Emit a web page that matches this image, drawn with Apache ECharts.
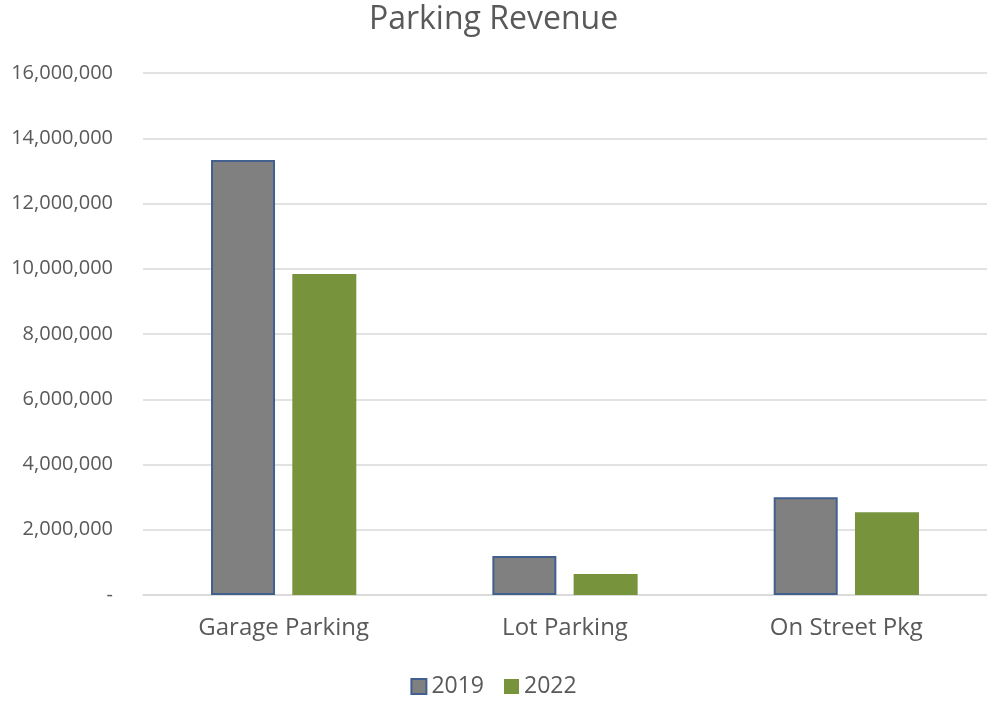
<!DOCTYPE html>
<html>
<head>
<meta charset="utf-8">
<script src="https://cdn.jsdelivr.net/npm/echarts@6/dist/echarts.min.js"></script>
<style>
  html, body { margin: 0; padding: 0; background: #fff; }
  #chart { width: 987px; height: 705px; }
</style>
</head>
<body>
<div id="chart"></div>
<script>
const categories = ["Garage Parking", "Lot Parking", "On Street Pkg"];
const rev2019 = [13330000, 1195000, 3000000];
const rev2022 = [9840000, 645000, 2540000];

const chart = echarts.init(document.getElementById("chart"));
const font = "'Open Sans', 'Liberation Sans', sans-serif";

chart.setOption({
  animation: false,
  textStyle: { fontFamily: font },
  title: {
    text: "Parking Revenue",
    left: "center",
    top: -1,
    textStyle: { fontFamily: font, fontSize: 32, fontWeight: "normal", color: "#595959" }
  },
  legend: {
    bottom: 2,
    left: "center",
    itemWidth: 15,
    itemHeight: 15,
    itemGap: 20,
    textStyle: { fontFamily: font, fontSize: 23, color: "#595959" },
    data: [
      { name: "2019", icon: "rect" },
      { name: "2022", icon: "rect" }
    ]
  },
  grid: { left: 143, right: 0, top: 73, bottom: 110 },
  xAxis: {
    type: "category",
    data: categories,
    axisLine: { lineStyle: { color: "#d9d9d9", width: 1.5 } },
    axisTick: { show: false },
    axisLabel: { fontFamily: font, fontSize: 24, color: "#595959", margin: 21 }
  },
  yAxis: {
    type: "value",
    min: 0,
    max: 16000000,
    interval: 2000000,
    axisLine: { show: false },
    axisTick: { show: false },
    splitLine: { lineStyle: { color: "#d9d9d9", width: 1.5 } },
    axisLabel: {
      fontFamily: font,
      fontSize: 20,
      color: "#595959",
      margin: 30,
      formatter: v => v === 0 ? "-" : v.toLocaleString("en-US")
    }
  },
  series: [
    {
      name: "2019",
      type: "bar",
      data: rev2019,
      barWidth: 64,
      barGap: "27%",
      itemStyle: { color: "#808080", borderColor: "#41608f", borderWidth: 2 }
    },
    {
      name: "2022",
      type: "bar",
      data: rev2022,
      barWidth: 64,
      itemStyle: { color: "#77933c" }
    }
  ]
});
</script>
</body>
</html>
